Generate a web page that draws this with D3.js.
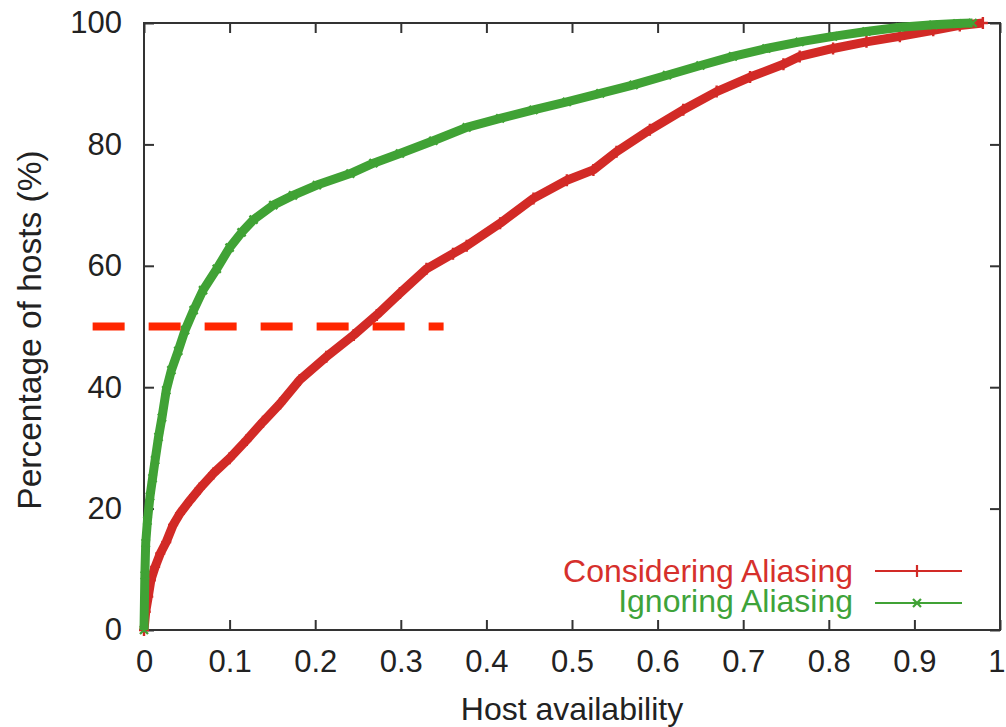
<!DOCTYPE html>
<html>
<head>
<meta charset="utf-8">
<script src="https://cdn.jsdelivr.net/npm/d3@7"></script>
<style>
  html, body { margin: 0; padding: 0; background: #fff; }
  svg { display: block; }
  text { font-family: "Liberation Sans", Arial, Helvetica, sans-serif; }
</style>
</head>
<body>
<svg id="chart" width="1006" height="727"></svg>
<script>
// ---- Data ----
const xTicks = [0, 0.1, 0.2, 0.3, 0.4, 0.5, 0.6, 0.7, 0.8, 0.9, 1];
const xTickLabels = ["0", "0.1", "0.2", "0.3", "0.4", "0.5", "0.6", "0.7", "0.8", "0.9", "1"];
const yTicks = [0, 20, 40, 60, 80, 100];
const yTickLabels = ["0", "20", "40", "60", "80", "100"];

const seriesNames = ["Considering Aliasing", "Ignoring Aliasing"];

const consX = [0, 0.002, 0.005, 0.008, 0.013, 0.019, 0.026, 0.034, 0.042, 0.054, 0.065, 0.081, 0.100, 0.120, 0.139, 0.159, 0.182, 0.213, 0.245, 0.272, 0.299, 0.330, 0.361, 0.377, 0.416, 0.455, 0.494, 0.525, 0.552, 0.591, 0.630, 0.669, 0.708, 0.747, 0.766, 0.805, 0.844, 0.883, 0.922, 0.953, 0.980];
const consY = [0, 3, 5.5, 8.2, 10.4, 12.6, 14.5, 17.3, 19.2, 21.4, 23.3, 25.8, 28.3, 31.3, 34.3, 37.3, 41.2, 45, 48.6, 51.9, 55.5, 59.5, 62, 63.3, 67, 71.1, 74.1, 75.8, 78.8, 82.4, 85.7, 88.7, 91.1, 93.2, 94.5, 95.8, 96.9, 97.8, 98.8, 99.6, 100];

const ignX = [0, 0.001, 0.002, 0.004, 0.007, 0.010, 0.013, 0.017, 0.021, 0.026, 0.032, 0.040, 0.048, 0.058, 0.069, 0.085, 0.100, 0.114, 0.128, 0.151, 0.174, 0.202, 0.241, 0.268, 0.299, 0.338, 0.377, 0.416, 0.455, 0.494, 0.533, 0.572, 0.611, 0.650, 0.688, 0.727, 0.766, 0.805, 0.844, 0.883, 0.922, 0.950, 0.968];
const ignY = [0, 9, 14.3, 18, 22, 25, 28, 31.8, 35, 39.5, 42.8, 46, 49.4, 52.7, 56, 59.5, 63, 65.5, 67.6, 70, 71.6, 73.3, 75.2, 76.9, 78.5, 80.6, 82.8, 84.3, 85.7, 87, 88.4, 89.8, 91.4, 93, 94.5, 95.8, 96.9, 97.8, 98.6, 99.3, 99.7, 99.9, 100];

const refLineX = [-0.06, 0.35];
const refLineY = [50, 50];

// ---- Layout / style ----
const W = 1006, H = 727;
const plot = { left: 144, right: 1000, top: 23, bottom: 630 };
const colRed = "#d22a26", colGreen = "#40a235", colDash = "#ff2600";
const tickFont = 31, labelFont = 32, yLabelFont = 33.5;

const svg = d3.select("#chart");
svg.append("rect").attr("width", W).attr("height", H).attr("fill", "#fff");

const x = d3.scaleLinear().domain([0, 1]).range([plot.left, plot.right]);
const y = d3.scaleLinear().domain([0, 100]).range([plot.bottom, plot.top]);

const axisColor = "#333";

function styleAxis(g) {
  g.select(".domain").remove();
  g.selectAll(".tick line").attr("stroke", axisColor).attr("stroke-width", 2);
  g.selectAll(".tick text").attr("fill", "#222").style("font-size", tickFont + "px")
    .style("font-family", '"Liberation Sans", Arial, sans-serif');
}

// bottom axis
const gx = svg.append("g").attr("transform", `translate(0,${plot.bottom})`)
  .call(d3.axisBottom(x).tickValues(xTicks).tickFormat((d, i) => xTickLabels[i])
    .tickSizeInner(-10).tickSizeOuter(0).tickPadding(20))
  .call(styleAxis);
// keep the last label ("1") inside the page, as in the reference where it sits at the edge
gx.selectAll(".tick text").filter(d => d === 1).attr("text-anchor", "end").attr("dx", "5");
// top axis (mirror ticks)
svg.append("g").attr("transform", `translate(0,${plot.top})`)
  .call(d3.axisTop(x).tickValues(xTicks).tickFormat("").tickSizeInner(-10).tickSizeOuter(0))
  .call(styleAxis);
// left axis
svg.append("g").attr("transform", `translate(${plot.left},0)`)
  .call(d3.axisLeft(y).tickValues(yTicks).tickFormat((d, i) => yTickLabels[i])
    .tickSizeInner(-10).tickSizeOuter(0).tickPadding(22))
  .call(styleAxis);
// right axis (mirror ticks)
svg.append("g").attr("transform", `translate(${plot.right},0)`)
  .call(d3.axisRight(y).tickValues(yTicks).tickFormat("").tickSizeInner(-10).tickSizeOuter(0))
  .call(styleAxis);

// border
svg.append("rect")
  .attr("x", x(0)).attr("y", y(100))
  .attr("width", x(1) - x(0)).attr("height", y(0) - y(100))
  .attr("fill", "none").attr("stroke", axisColor).attr("stroke-width", 2);

// axis titles
svg.append("text").attr("x", (plot.left + plot.right) / 2).attr("y", 720)
  .attr("text-anchor", "middle").attr("fill", "#222").style("font-size", labelFont + "px")
  .text("Host availability");
svg.append("text")
  .attr("transform", `translate(41,330) rotate(-90)`)
  .attr("text-anchor", "middle").attr("fill", "#222").style("font-size", yLabelFont + "px")
  .text("Percentage of hosts (%)");

// markers
const plusPath = "M-5,0H5M0,-6V6";
const crossPath = "M-4,-4L4,4M-4,4L4,-4";

const line = d3.line().x(d => x(d[0])).y(d => y(d[1]));

function drawSeries(xs, ys, color, markerPath) {
  const pts = xs.map((v, i) => [v, ys[i]]);
  const g = svg.append("g");
  g.append("path").datum(pts).attr("d", line)
    .attr("fill", "none").attr("stroke", color).attr("stroke-width", 9)
    .attr("stroke-linejoin", "round").attr("stroke-linecap", "butt");
  g.selectAll("path.m").data(pts).enter().append("path").attr("class", "m")
    .attr("d", markerPath)
    .attr("transform", d => `translate(${x(d[0])},${y(d[1])})`)
    .attr("stroke", color).attr("stroke-width", 2.4).attr("fill", "none");
}

drawSeries(consX, consY, colRed, plusPath);
drawSeries(ignX, ignY, colGreen, crossPath);

// reference dashed line at 50%
svg.append("path")
  .datum(refLineX.map((v, i) => [v, refLineY[i]]))
  .attr("d", line)
  .attr("fill", "none").attr("stroke", colDash).attr("stroke-width", 8)
  .attr("stroke-dasharray", "32,24");

// legend
const legend = [
  { name: seriesNames[0], color: colRed, marker: plusPath, ty: 582, ly: 571, tcol: "#d6302c" },
  { name: seriesNames[1], color: colGreen, marker: crossPath, ty: 612, ly: 603, tcol: "#3ea33a" }
];
legend.forEach(l => {
  svg.append("text").attr("x", 853).attr("y", l.ty).attr("text-anchor", "end")
    .attr("fill", l.tcol).style("font-size", labelFont + "px").text(l.name);
  svg.append("line").attr("x1", 875).attr("x2", 962).attr("y1", l.ly).attr("y2", l.ly)
    .attr("stroke", l.color).attr("stroke-width", 2);
  svg.append("path").attr("d", l.marker).attr("transform", `translate(917,${l.ly})`)
    .attr("stroke", l.color).attr("stroke-width", 2.2).attr("fill", "none");
});
</script>
</body>
</html>
